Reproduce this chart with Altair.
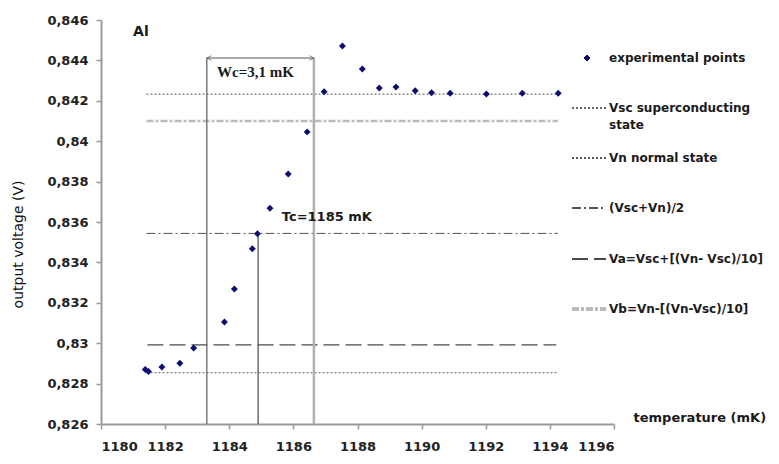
import altair as alt
import pandas as pd

# ---------------- data ----------------
temperature_mK = [1181.38, 1181.48, 1181.90, 1182.46, 1182.89, 1183.85, 1184.16,
                  1184.72, 1184.88, 1185.27, 1185.84, 1186.43, 1186.96, 1187.53,
                  1188.15, 1188.68, 1189.20, 1189.80, 1190.31, 1190.89, 1192.02,
                  1193.14, 1194.26]
voltage_V = [0.82870, 0.82860, 0.82882, 0.82901, 0.82976, 0.83105, 0.83268,
             0.83468, 0.83542, 0.83668, 0.83838, 0.84046, 0.84245, 0.84471,
             0.84357, 0.84263, 0.84268, 0.84250, 0.84240, 0.84237, 0.84234,
             0.84237, 0.84237]

level_keys = ["Vsc", "Vn", "mean", "Va", "Vb"]
level_values = [0.82854, 0.84233, 0.835435, 0.82992, 0.84100]
level_start = [1181.42, 1181.42, 1181.42, 1181.45, 1181.42]
level_end = [1194.25, 1194.25, 1194.25, 1194.2, 1194.25]

legend_keys = ["points", "Vsc", "Vn", "mean", "Va", "Vb"]
legend_labels = [["experimental points"], ["Vsc  superconducting", "state"],
                 ["Vn  normal state"], ["(Vsc+Vn)/2"],
                 ["Va=Vsc+[(Vn- Vsc)/10]"], ["Vb=Vn-[(Vn-Vsc)/10]"]]

wc_left = 1183.30
wc_right = 1186.64
wc_level = 0.84412
tc_temp = 1184.90
tc_voltage = 0.835435

x_ticks = [1180, 1182, 1184, 1186, 1188, 1190, 1192, 1194, 1196]
y_ticks = [0.826, 0.828, 0.830, 0.832, 0.834, 0.836, 0.838, 0.840, 0.842, 0.844, 0.846]

# ---------------- styles ----------------
FONT = "DejaVu Sans"
styles = {
    "Vsc": dict(color="#666666", strokeDash=[2, 2], strokeWidth=1),
    "Vn": dict(color="#555555", strokeDash=[2, 2], strokeWidth=1),
    "mean": dict(color="#555555", strokeDash=[9, 3, 2, 3], strokeWidth=1),
    "Va": dict(color="#4a4a4a", strokeDash=[16, 6], strokeWidth=1.3),
    "Vb": dict(color="#bbbbbb", strokeDash=[7, 2, 3, 2], strokeWidth=2.5),
}
legend_y = {"points": 38, "Vsc": 88, "Vn": 138, "mean": 188, "Va": 239, "Vb": 289}

xs = alt.Scale(domain=[1180, 1196], nice=False, zero=False)
ys = alt.Scale(domain=[0.826, 0.846], nice=False, zero=False)

points_df = pd.DataFrame({"T": temperature_mK, "V": voltage_V})
levels_df = pd.DataFrame({"key": level_keys, "V": level_values,
                          "T0": level_start, "T1": level_end})

layers = []

# horizontal reference levels
for k in level_keys:
    layers.append(
        alt.Chart(levels_df).transform_filter(alt.datum.key == k)
        .mark_rule(**styles[k])
        .encode(x=alt.X("T0:Q", scale=xs), x2="T1:Q", y=alt.Y("V:Q", scale=ys))
    )

# vertical lines for transition width and Tc
vert_df = pd.DataFrame({"T": [wc_left, wc_right, tc_temp],
                        "top": [wc_level, wc_level, tc_voltage],
                        "bottom": [0.826, 0.826, 0.826],
                        "kind": ["left", "right", "tc"]})
vstyle = {"left": dict(color="#666666", strokeWidth=1.3),
          "right": dict(color="#b0b0b0", strokeWidth=2.5),
          "tc": dict(color="#555555", strokeWidth=1.3)}
for kind in ["left", "right", "tc"]:
    layers.append(
        alt.Chart(vert_df).transform_filter(alt.datum.kind == kind)
        .mark_rule(**vstyle[kind])
        .encode(x=alt.X("T:Q", scale=xs), y=alt.Y("top:Q", scale=ys), y2="bottom:Q")
    )

# Wc arrow
arrow_df = pd.DataFrame({"T0": [wc_left], "T1": [wc_right], "V": [wc_level]})
layers.append(
    alt.Chart(arrow_df).mark_rule(color="#555555", strokeWidth=1.2)
    .encode(x=alt.X("T0:Q", scale=xs), x2="T1:Q", y=alt.Y("V:Q", scale=ys))
)
layers.append(
    alt.Chart(arrow_df).mark_point(shape="M0,0L2,-1M0,0L2,1", size=20, filled=False,
                                   color="#555555", strokeWidth=1)
    .encode(x=alt.X("T0:Q", scale=xs), y=alt.Y("V:Q", scale=ys))
)
layers.append(
    alt.Chart(arrow_df).mark_point(shape="M0,0L-2,-1M0,0L-2,1", size=20, filled=False,
                                   color="#555555", strokeWidth=1)
    .encode(x=alt.X("T1:Q", scale=xs), y=alt.Y("V:Q", scale=ys))
)

# experimental points
layers.append(
    alt.Chart(points_df).mark_point(shape="diamond", filled=True, size=48,
                                    color="#0c0c72", opacity=1)
    .encode(
        x=alt.X("T:Q", scale=xs,
                axis=alt.Axis(values=x_ticks, title="temperature (mK)",
                              labelExpr="format(datum.value, 'd')",
                              titleX=532, titleY=-7, titleAlign="left",
                              titleBaseline="middle", titleAngle=0,
                              labelPadding=11)),
        y=alt.Y("V:Q", scale=ys,
                axis=alt.Axis(values=y_ticks, title="output voltage (V)",
                              labelExpr="replace(format(datum.value, '.3~f'), '.', ',')",
                              titleX=-83, titleY=224, titleAngle=-90,
                              titleAlign="center", titleBaseline="middle",
                              titleFontWeight="normal", titleFontSize=14,
                              titleColor="#111111",
                              labelPadding=8)),
    )
)

# annotations
ann = [("Al", 1181.0, 0.84541, dict(font=FONT, fontWeight="bold", fontSize=14)),
       ("Wc=3,1 mK", 1183.62, 0.84343,
        dict(font="Liberation Serif", fontWeight="bold", fontSize=15)),
       ("Tc=1185 mK", 1185.64, 0.83623, dict(font=FONT, fontWeight="bold", fontSize=13))]
for txt, tx, ty, st in ann:
    layers.append(
        alt.Chart(pd.DataFrame({"t": [txt], "T": [tx], "V": [ty]}))
        .mark_text(align="left", baseline="middle", color="#1a1a1a", **st)
        .encode(x=alt.X("T:Q", scale=xs), y=alt.Y("V:Q", scale=ys), text="t:N")
    )

# manual legend (right side)
LX0, LX1, LT = 471, 505, 508
for key, lines in zip(legend_keys, legend_labels):
    yy = legend_y[key]
    if key == "points":
        layers.append(
            alt.Chart(points_df).mark_point(shape="diamond", filled=True, size=30,
                                            color="#0c0c72", clip=False)
            .encode(x=alt.value(486), y=alt.value(yy))
        )
    else:
        layers.append(
            alt.Chart(points_df).mark_rule(clip=False, **styles[key])
            .encode(x=alt.value(LX0), x2=alt.value(LX1), y=alt.value(yy))
        )
    for i, line in enumerate(lines):
        layers.append(
            alt.Chart(pd.DataFrame({"t": [line]})).mark_text(
                align="left", baseline="middle", font=FONT, fontWeight="bold",
                fontSize=12, color="#1a1a1a", clip=False)
            .encode(x=alt.value(LT), y=alt.value(yy + 17 * i), text="t:N")
        )

chart = alt.layer(*layers).properties(
    width=513, height=404,
    autosize=alt.AutoSizeParams(type="none"),
    padding={"left": 93, "top": 12, "right": 157, "bottom": 32},
).configure_view(stroke=None).configure_axis(
    grid=False, domainColor="#9a9a9a", domainWidth=2, tickColor="#9a9a9a",
    tickWidth=1.5, tickSize=5, labelFont=FONT, labelFontWeight="bold",
    labelFontSize=13, labelColor="#222222", titleFont=FONT, titleFontSize=13,
    titleFontWeight="bold", titleColor="#1a1a1a",
)

chart.save("out.html", embed_options={"renderer": "svg", "actions": False})
